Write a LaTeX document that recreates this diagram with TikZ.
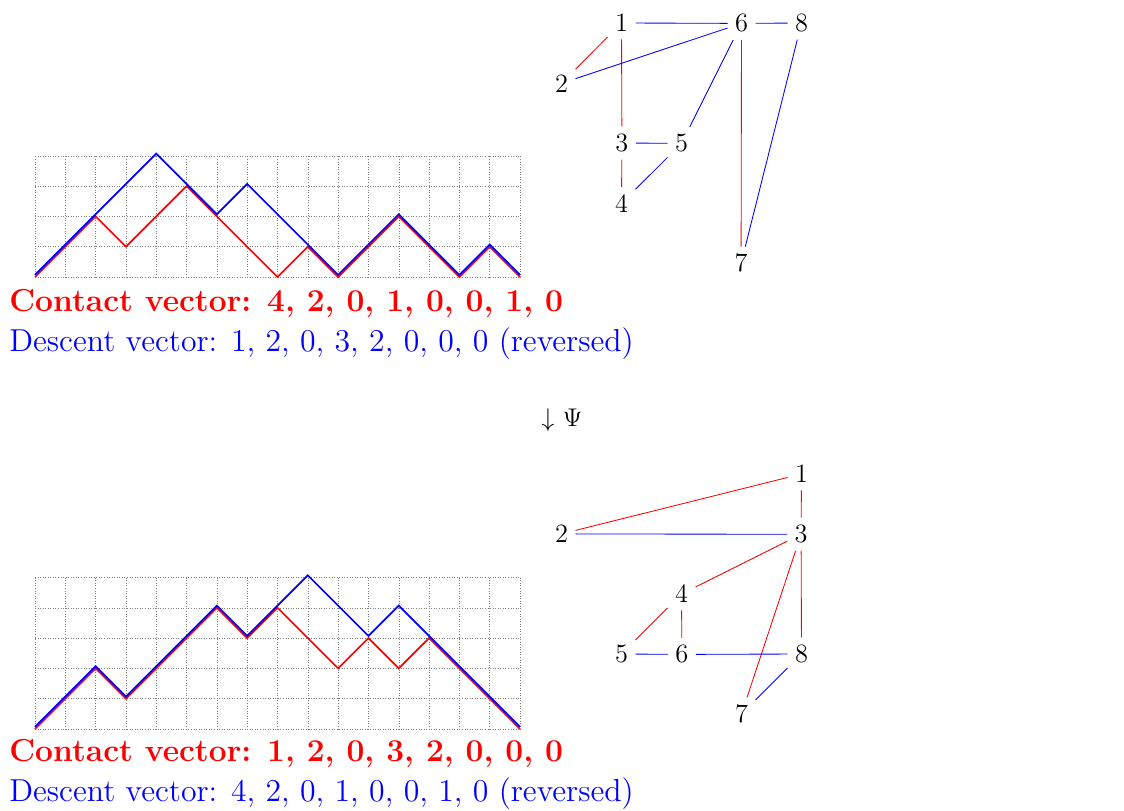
\documentclass[tikz,border=0pt]{standalone}
\begin{document}
\begin{tikzpicture}[x=0.0164948cm,y=-0.0164948cm,
  gridline/.style={gray,very thin,densely dotted},
  redpath/.style={red,thick},
  bluepath/.style={blue,thick,yshift=1pt},
  vnode/.style={font=\fontsize{12.4}{15}\selectfont},
  redge/.style={red},
  bedge/.style={blue},
  contact/.style={red,font=\fontsize{14.9}{18.6}\selectfont\bfseries,anchor=base west,inner sep=0pt},
  descent/.style={blue,font=\fontsize{14.9}{18.6}\selectfont,anchor=base west,inner sep=0pt}]
\useasboundingbox (0,0) rectangle (1124,811);

% ---------- top lattice paths ----------
\begin{scope}[shift={(35,277)},x=0.5cm,y=0.5cm]
  \foreach \i in {0,...,16} \draw[gridline] (\i,0) -- (\i,4);
  \foreach \j in {0,...,4} \draw[gridline] (0,\j) -- (16,\j);
  \draw[redpath] (0,0)--(1,1)--(2,2)--(3,1)--(4,2)--(5,3)--(6,2)--(7,1)--(8,0)--(9,1)--(10,0)--(11,1)--(12,2)--(13,1)--(14,0)--(15,1)--(16,0);
  \draw[bluepath] (0,0)--(4,4)--(6,2)--(7,3)--(10,0)--(12,2)--(14,0)--(15,1)--(16,0);
\end{scope}

\node[contact] (c1) at (9,311.7) {Contact vector: 4, 2, 0, 1, 0, 0, 1, 0};
\node[descent] (d1) at (9,351.7) {Descent vector: 1, 2, 0, 3, 2, 0, 0, 0 (reversed)};

% ---------- top graph ----------
\node[vnode] (t1) at (621.5,23.0) {1};
\node[vnode] (t6) at (741.5,23.4) {6};
\node[vnode] (t8) at (801.5,23.0) {8};
\node[vnode] (t2) at (561.5,83.3) {2};
\node[vnode] (t3) at (621.9,143.0) {3};
\node[vnode] (t5) at (681.5,143.4) {5};
\node[vnode] (t4) at (621.5,203.3) {4};
\node[vnode] (t7) at (741.1,263.3) {7};
\draw[redge] (t1) -- (t2);
\draw[redge] (t1) -- (t3);
\draw[redge] (t3) -- (t4);
\draw[redge] (t6) -- (t7);
\draw[bedge] (t1) -- (t6);
\draw[bedge] (t2) -- (t6);
\draw[bedge] (t6) -- (t8);
\draw[bedge] (t6) -- (t5);
\draw[bedge] (t3) -- (t5);
\draw[bedge] (t4) -- (t5);
\draw[bedge] (t8) -- (t7);

% ---------- map ----------
\node[font=\fontsize{12.4}{15}\selectfont] (psi) at (562,420) {$\downarrow$ $\Psi$};

% ---------- bottom lattice paths ----------
\begin{scope}[shift={(35,729)},x=0.5cm,y=0.5cm]
  \foreach \i in {0,...,16} \draw[gridline] (\i,0) -- (\i,5);
  \foreach \j in {0,...,5} \draw[gridline] (0,\j) -- (16,\j);
  \draw[redpath] (0,0)--(2,2)--(3,1)--(6,4)--(7,3)--(8,4)--(10,2)--(11,3)--(12,2)--(13,3)--(16,0);
  \draw[bluepath] (0,0)--(2,2)--(3,1)--(6,4)--(7,3)--(9,5)--(11,3)--(12,4)--(16,0);
\end{scope}

\node[contact] (c2) at (9,761.7) {Contact vector: 1, 2, 0, 3, 2, 0, 0, 0};
\node[descent] (d2) at (9,801.7) {Descent vector: 4, 2, 0, 1, 0, 0, 1, 0 (reversed)};

% ---------- bottom graph ----------
\node[vnode] (b1) at (801.5,474) {1};
\node[vnode] (b3) at (801.1,534.3) {3};
\node[vnode] (b2) at (561.5,533.9) {2};
\node[vnode] (b4) at (681.5,594) {4};
\node[vnode] (b5) at (621.5,654) {5};
\node[vnode] (b6) at (681.9,654.4) {6};
\node[vnode] (b8) at (801.5,654) {8};
\node[vnode] (b7) at (741.5,714) {7};
\draw[redge] (b1) -- (b2);
\draw[redge] (b1) -- (b3);
\draw[redge] (b3) -- (b4);
\draw[redge] (b3) -- (b7);
\draw[redge] (b3) -- (b8);
\draw[redge] (b4) -- (b5);
\draw[redge] (b4) -- (b6);
\draw[bedge] (b2) -- (b3);
\draw[bedge] (b5) -- (b6);
\draw[bedge] (b6) -- (b8);
\draw[bedge] (b8) -- (b7);
\end{tikzpicture}
\end{document}
